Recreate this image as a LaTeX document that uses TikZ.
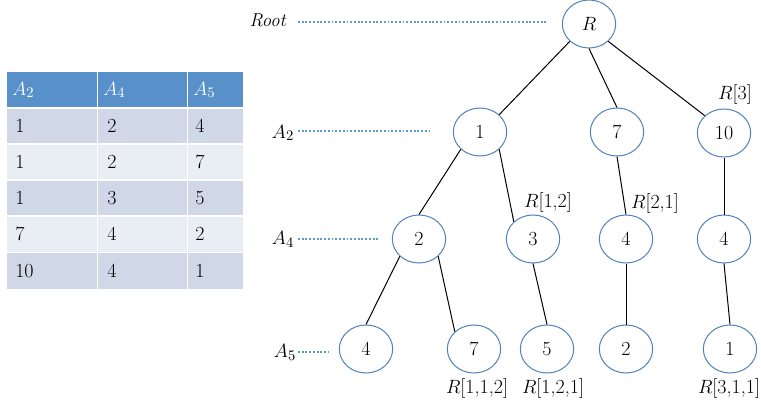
\documentclass[tikz,border=0pt]{standalone}
\usepackage{amsmath}
\usepackage{tikz}
\usetikzlibrary{shapes.geometric}
\definecolor{ovalblue}{RGB}{79,129,189}
\definecolor{dotblue}{RGB}{91,155,213}
\definecolor{headblue}{RGB}{88,145,201}
\definecolor{banddark}{RGB}{208,216,232}
\definecolor{bandlight}{RGB}{233,237,244}

\begin{document}
\begin{tikzpicture}[x=0.75pt,y=0.75pt,yscale=-1,xscale=1,
  oval/.style={ellipse,draw=ovalblue,line width=0.75pt,minimum width=40pt,minimum height=36pt,inner sep=0pt,font=\fontsize{15}{17}\selectfont},
  lbl/.style={inner sep=0.75pt,font=\fontsize{15}{17}\selectfont},
  edge/.style={line width=0.75pt},
  leveldots/.style={draw=dotblue,line width=1.5pt,dash pattern={on 1.4pt off 1.4pt}},
  cell/.style={anchor=west,inner sep=0.75pt,font=\fontsize{15}{17}\selectfont}]
\useasboundingbox (0,0) rectangle (761,410);

%Table bands
\fill [headblue] (7.3,72.3) rectangle (243.3,108) ;
\fill [banddark] (7.3,108) rectangle (243.3,144) ;
\fill [bandlight] (7.3,144) rectangle (243.3,180) ;
\fill [banddark] (7.3,180) rectangle (243.3,216) ;
\fill [bandlight] (7.3,216) rectangle (243.3,252.5) ;
\fill [banddark] (7.3,252.5) rectangle (243.3,289.3) ;
%Table grid
\draw [white,line width=1.1pt] (97.3,72.3) -- (97.3,289.3) ;
\draw [white,line width=1.1pt] (187.7,72.3) -- (187.7,289.3) ;
\draw [white,line width=1.1pt] (7.3,108) -- (243.3,108) ;
\draw [white,line width=1.1pt] (7.3,144) -- (243.3,144) ;
\draw [white,line width=1.1pt] (7.3,180) -- (243.3,180) ;
\draw [white,line width=1.1pt] (7.3,216) -- (243.3,216) ;
\draw [white,line width=1.1pt] (7.3,252.5) -- (243.3,252.5) ;

% Table text
\node [cell,text=white] (hA2) at (11,90) {$A_2$};
\node [cell,text=white] (hA4) at (102,90) {$A_4$};
\node [cell,text=white] (hA5) at (192,90) {$A_5$};
\node [cell] (t11) at (14,126) {1};
\node [cell] (t12) at (106,126) {2};
\node [cell] (t13) at (194,126) {4};
\node [cell] (t21) at (14,162) {1};
\node [cell] (t22) at (106,162) {2};
\node [cell] (t23) at (194,162) {7};
\node [cell] (t31) at (14,198) {1};
\node [cell] (t32) at (106,198) {3};
\node [cell] (t33) at (194,198) {5};
\node [cell] (t41) at (14,234) {7};
\node [cell] (t42) at (106,234) {4};
\node [cell] (t43) at (194,234) {2};
\node [cell] (t51) at (14,271) {10};
\node [cell] (t52) at (106,271) {4};
\node [cell] (t53) at (194,271) {1};

% Tree nodes
\node [oval] (R) at (589,24) {$R$};
\node [oval] (n1) at (480,132) {1};
\node [oval] (n7) at (617,132) {7};
\node [oval] (n10) at (724,133) {10};
\node [oval] (n2) at (419,239) {2};
\node [oval] (n3) at (533,239) {3};
\node [oval] (n4a) at (626,239) {4};
\node [oval] (n4b) at (724,239) {4};
\node [oval] (m4) at (366,349) {4};
\node [oval] (m7) at (474,349) {7};
\node [oval] (m5) at (547,349) {5};
\node [oval] (m2) at (626,349) {2};
\node [oval] (m1) at (730,349) {1};

%Straight Lines
\draw [edge] (R.south west) -- (n1.north east) ;
\draw [edge] (R.south) -- (n7.north) ;
\draw [edge] (R.south east) -- (n10.north west) ;
\draw [edge] (n1.south west) -- (n2.north) ;
\draw [edge] (n1.south east) -- (n3.north west) ;
\draw [edge] (n7.south) -- (n4a.north) ;
\draw [edge] (n10.south) -- (n4b.north) ;
\draw [edge] (n2.south west) -- (m4.north) ;
\draw [edge] (n2.south east) -- (m7.north west) ;
\draw [edge] (n3.south) -- (m5.north) ;
\draw [edge] (n4a.south) -- (m2.north) ;
\draw [edge] (n4b.south) -- (m1.north) ;

% Text Node
\node [lbl] (p12) at (548,202) {$R$[1,2]};
\node [lbl] (p21) at (655,203) {$R$[2,1]};
\node [lbl] (p3) at (735,95) {$R$[3]};
\node [lbl] (p112) at (477,388) {$R$[1,1,2]};
\node [lbl] (p121) at (553,388) {$R$[1,2,1]};
\node [lbl] (p311) at (729,388) {$R$[3,1,1]};

% Level labels
\node [lbl,font=\fontsize{14}{16}\selectfont] (lroot) at (268,20) {\textit{Root}};
\node [lbl] (lA2) at (283,133) {$A_2$};
\node [lbl] (lA4) at (283,239) {$A_4$};
\node [lbl] (lA5) at (285,352) {$A_5$};
\coordinate (eroot) at (547,22);
\coordinate (eA2) at (430,131);
\coordinate (eA4) at (378,239);
\coordinate (eA5) at (328,352);
\draw [leveldots] (298,22) -- (eroot) ;
\draw [leveldots] (298,131) -- (eA2) ;
\draw [leveldots] (298,239) -- (eA4) ;
\draw [leveldots] (298,352) -- (eA5) ;

\end{tikzpicture}
\end{document}
